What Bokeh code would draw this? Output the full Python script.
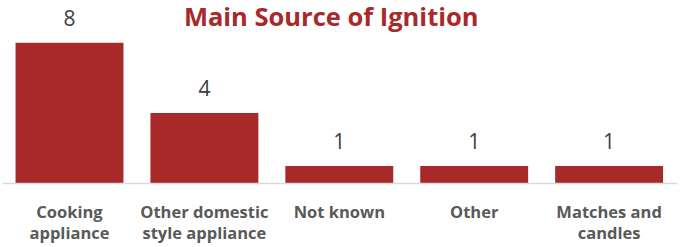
from bokeh.plotting import figure
from bokeh.models import Range1d, Label, ColumnDataSource, Span
from bokeh.embed import file_html
from bokeh.resources import INLINE
from bokeh.core.properties import value

categories = ["Cooking\nappliance", "Other domestic\nstyle appliance", "Not known", "Other", "Matches and\ncandles"]
counts = [8, 4, 1, 1, 1]
chart_title = "Main Source of Ignition"

RED = "#A9292B"
xs = list(range(len(categories)))
src = ColumnDataSource(dict(x=xs, top=counts, lbl=[str(c) for c in counts],
                            base=[0] * len(xs), cat=categories))

p = figure(width=681, height=247, output_backend="svg", toolbar_location=None,
           x_range=Range1d(-0.4967, 4.507), y_range=Range1d(-3.636, 10.398),
           min_border_left=2, min_border_right=4, min_border_top=0, min_border_bottom=0)
p.outline_line_color = None
p.grid.visible = False
p.axis.visible = False
p.background_fill_color = "white"
p.border_fill_color = "white"

p.vbar(x="x", top="top", width=0.8, bottom=0, source=src, fill_color=RED, line_color=None)
p.add_layout(Span(location=0, dimension="width", line_color="#D9D9D9", line_width=1.5))

p.text(x="x", y="top", text="lbl", source=src, text_align="center", text_baseline="alphabetic",
       y_offset=-25, text_font=value("Open Sans"), text_font_size="21px", text_color="#404040")

p.text(x="x", y="base", text="cat", source=src, text_align="center", text_baseline="top",
       y_offset=16, text_font=value("Open Sans"), text_font_style="bold", text_font_size="16.5px",
       text_color="#595959", text_line_height=0.95)

p.add_layout(Label(x=1.94, y=9.54, text=chart_title, text_align="center", text_baseline="middle",
                   text_font="Open Sans", text_font_style="bold", text_font_size="25.5px", text_color=RED))

open("out.html", "w").write(file_html(p, INLINE))
